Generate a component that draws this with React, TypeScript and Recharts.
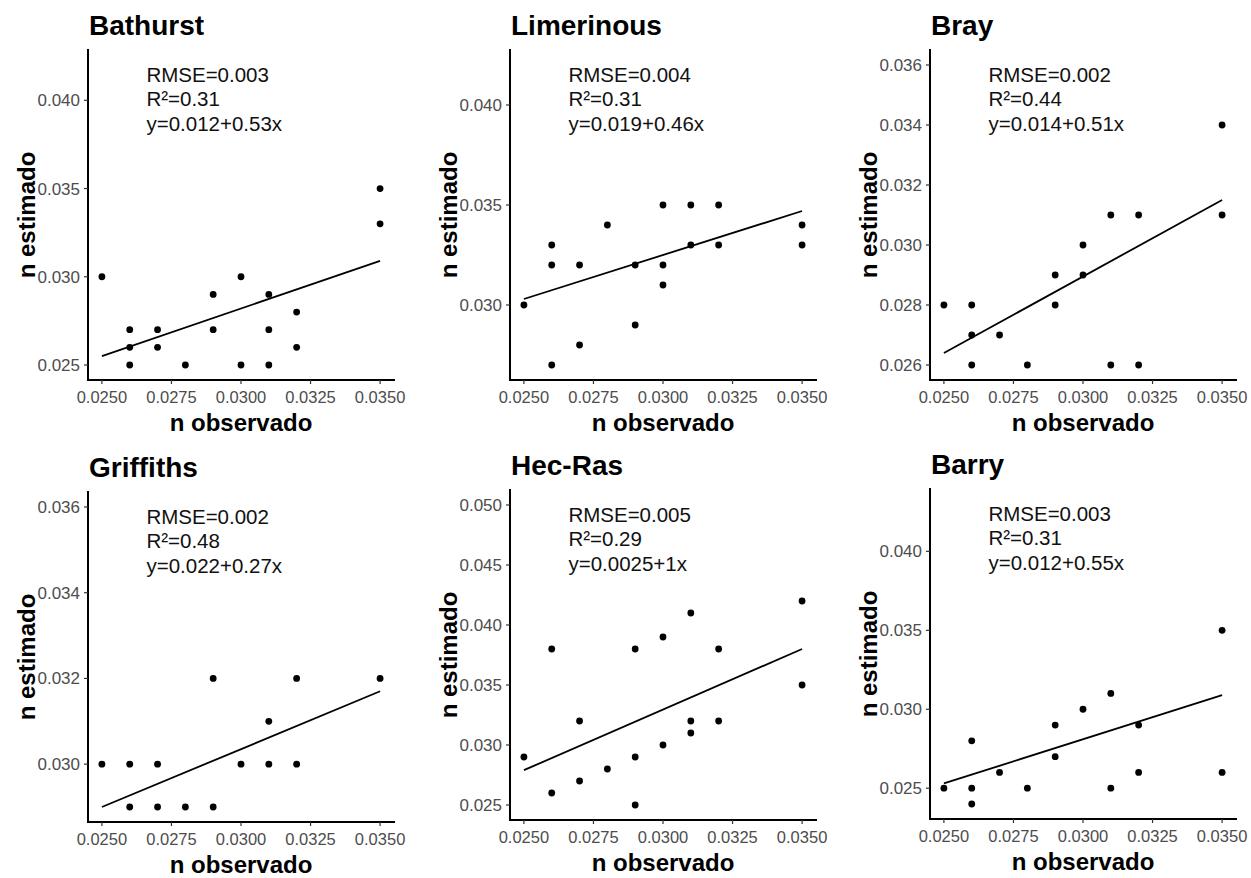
import React from 'react';
import { ScatterChart, Scatter, XAxis, YAxis, ReferenceLine } from 'recharts';

const panelNames = ['Bathurst', 'Limerinous', 'Bray', 'Griffiths', 'Hec-Ras', 'Barry'];

const xTicks = [0.025, 0.0275, 0.03, 0.0325, 0.035];
const xDomain = [0.0245, 0.0355];
const fitX = [0.025, 0.035];

// n observado / n estimado, one pair of arrays per station
const bathurstObs = [0.025, 0.026, 0.026, 0.026, 0.027, 0.027, 0.028, 0.029, 0.029, 0.030, 0.030, 0.031, 0.031, 0.031, 0.032, 0.032, 0.035, 0.035];
const bathurstEst = [0.030, 0.027, 0.026, 0.025, 0.027, 0.026, 0.025, 0.029, 0.027, 0.030, 0.025, 0.029, 0.027, 0.025, 0.028, 0.026, 0.035, 0.033];

const limerinousObs = [0.025, 0.026, 0.026, 0.026, 0.027, 0.027, 0.028, 0.029, 0.029, 0.030, 0.030, 0.030, 0.031, 0.031, 0.032, 0.032, 0.035, 0.035];
const limerinousEst = [0.030, 0.033, 0.032, 0.027, 0.032, 0.028, 0.034, 0.032, 0.029, 0.035, 0.032, 0.031, 0.035, 0.033, 0.035, 0.033, 0.034, 0.033];

const brayObs = [0.025, 0.026, 0.026, 0.026, 0.027, 0.028, 0.029, 0.029, 0.030, 0.030, 0.031, 0.031, 0.032, 0.032, 0.035, 0.035];
const brayEst = [0.028, 0.028, 0.027, 0.026, 0.027, 0.026, 0.029, 0.028, 0.030, 0.029, 0.031, 0.026, 0.031, 0.026, 0.034, 0.031];

const griffithsObs = [0.025, 0.026, 0.026, 0.027, 0.027, 0.028, 0.029, 0.029, 0.030, 0.031, 0.031, 0.032, 0.032, 0.035];
const griffithsEst = [0.030, 0.030, 0.029, 0.030, 0.029, 0.029, 0.032, 0.029, 0.030, 0.031, 0.030, 0.032, 0.030, 0.032];

const hecRasObs = [0.025, 0.026, 0.026, 0.027, 0.027, 0.028, 0.029, 0.029, 0.029, 0.030, 0.030, 0.031, 0.031, 0.031, 0.032, 0.032, 0.035, 0.035];
const hecRasEst = [0.029, 0.038, 0.026, 0.032, 0.027, 0.028, 0.038, 0.029, 0.025, 0.039, 0.030, 0.041, 0.032, 0.031, 0.038, 0.032, 0.042, 0.035];

const barryObs = [0.025, 0.026, 0.026, 0.026, 0.027, 0.028, 0.029, 0.029, 0.030, 0.031, 0.031, 0.032, 0.032, 0.035, 0.035];
const barryEst = [0.025, 0.028, 0.025, 0.024, 0.026, 0.025, 0.029, 0.027, 0.030, 0.031, 0.025, 0.029, 0.026, 0.035, 0.026];

const obsSets = [bathurstObs, limerinousObs, brayObs, griffithsObs, hecRasObs, barryObs];
const estSets = [bathurstEst, limerinousEst, brayEst, griffithsEst, hecRasEst, barryEst];

// fitted line read at n observado = 0.025 and 0.035
const fitEnds = [
  [0.0255, 0.0309],
  [0.0303, 0.0347],
  [0.0264, 0.0315],
  [0.0290, 0.0317],
  [0.0279, 0.0380],
  [0.0253, 0.0309],
];

const yDomains = [
  [0.02415, 0.04285],
  [0.02625, 0.04275],
  [0.0255, 0.0365],
  [0.02865, 0.03635],
  [0.02375, 0.05125],
  [0.02305, 0.04395],
];

const yTickSets = [
  [0.025, 0.030, 0.035, 0.040],
  [0.030, 0.035, 0.040],
  [0.026, 0.028, 0.030, 0.032, 0.034, 0.036],
  [0.030, 0.032, 0.034, 0.036],
  [0.025, 0.030, 0.035, 0.040, 0.045, 0.050],
  [0.025, 0.030, 0.035, 0.040],
];

const rmseLabels = ['RMSE=0.003', 'RMSE=0.004', 'RMSE=0.002', 'RMSE=0.002', 'RMSE=0.005', 'RMSE=0.003'];
const r2Labels = ['R²=0.31', 'R²=0.31', 'R²=0.44', 'R²=0.48', 'R²=0.29', 'R²=0.31'];
const eqLabels = ['y=0.012+0.53x', 'y=0.019+0.46x', 'y=0.014+0.51x', 'y=0.022+0.27x', 'y=0.0025+1x', 'y=0.012+0.55x'];
const noteX = 0.0266;
const noteTop = [0.042, 0.042, 0.036, 0.036, 0.050, 0.043];

const panelPos = [
  [0, 0],
  [422, 0],
  [842, 0],
  [0, 442],
  [422, 440],
  [842, 439],
];

const W = 412;
const H = 440;
const FONT = '"Liberation Sans", Arial, sans-serif';

function Panel({ i }: { i: number }) {
  const points = obsSets[i].map((x, k) => ({ x, y: estSets[i][k] }));
  const note = [{ x: noteX, y: noteTop[i] }];
  const [left, top] = panelPos[i];

  return (
    <div style={{ position: 'absolute', left, top, width: W, height: H }}>
      <ScatterChart width={W} height={H} margin={{ top: 50, right: 18, bottom: 30, left: 0 }}>
        <XAxis
          type="number"
          dataKey="x"
          domain={xDomain}
          ticks={xTicks}
          tickFormatter={(v: number) => v.toFixed(4)}
          height={30}
          tickSize={4}
          tickMargin={7}
          tick={{ fill: '#4d4d4d', fontSize: 16.5 }}
          axisLine={{ stroke: '#000', strokeWidth: 2, strokeLinecap: 'square' }}
          tickLine={{ stroke: '#333', strokeWidth: 1.2 }}
          allowDataOverflow
        />
        <YAxis
          type="number"
          dataKey="y"
          domain={yDomains[i]}
          ticks={yTickSets[i]}
          tickFormatter={(v: number) => v.toFixed(3)}
          width={88}
          tickSize={4}
          tickMargin={4}
          tick={{ fill: '#4d4d4d', fontSize: 17 }}
          axisLine={{ stroke: '#000', strokeWidth: 2, strokeLinecap: 'square' }}
          tickLine={{ stroke: '#333', strokeWidth: 1.2 }}
          allowDataOverflow
        />
        <ReferenceLine
          segment={[
            { x: fitX[0], y: fitEnds[i][0] },
            { x: fitX[1], y: fitEnds[i][1] },
          ]}
          stroke="#000"
          strokeWidth={1.8}
          ifOverflow="visible"
        />
        <Scatter
          data={points}
          isAnimationActive={false}
          shape={(s: any) => <circle cx={s.cx} cy={s.cy} r={3.4} fill="#000" />}
        />
        <Scatter
          data={note}
          isAnimationActive={false}
          shape={(s: any) => (
            <text x={s.cx} y={s.cy} fontSize={20.5} fill="#111" fontFamily={FONT}>
              <tspan x={s.cx} dy={17}>{rmseLabels[i]}</tspan>
              <tspan x={s.cx} dy={24.3}>{r2Labels[i]}</tspan>
              <tspan x={s.cx} dy={24.3}>{eqLabels[i]}</tspan>
            </text>
          )}
        />
      </ScatterChart>
      <svg
        width={W}
        height={H}
        style={{ position: 'absolute', left: 0, top: 0, pointerEvents: 'none' }}
      >
        <text x={89} y={35} fontSize={28} fontWeight="bold" fill="#000" fontFamily={FONT}>
          {panelNames[i]}
        </text>
        <text x={241} y={431} fontSize={24} fontWeight="bold" fill="#000" textAnchor="middle" fontFamily={FONT}>
          n observado
        </text>
        <text
          transform="translate(35,215) rotate(-90)"
          fontSize={24}
          fontWeight="bold"
          fill="#000"
          textAnchor="middle"
          fontFamily={FONT}
        >
          n estimado
        </text>
      </svg>
    </div>
  );
}

export default function App() {
  return (
    <div
      style={{
        position: 'absolute',
        left: 0,
        top: 0,
        width: 1251,
        height: 878,
        background: '#fff',
        overflow: 'hidden',
        fontFamily: FONT,
      }}
    >
      {panelNames.map((_, i) => (
        <Panel key={i} i={i} />
      ))}
    </div>
  );
}
